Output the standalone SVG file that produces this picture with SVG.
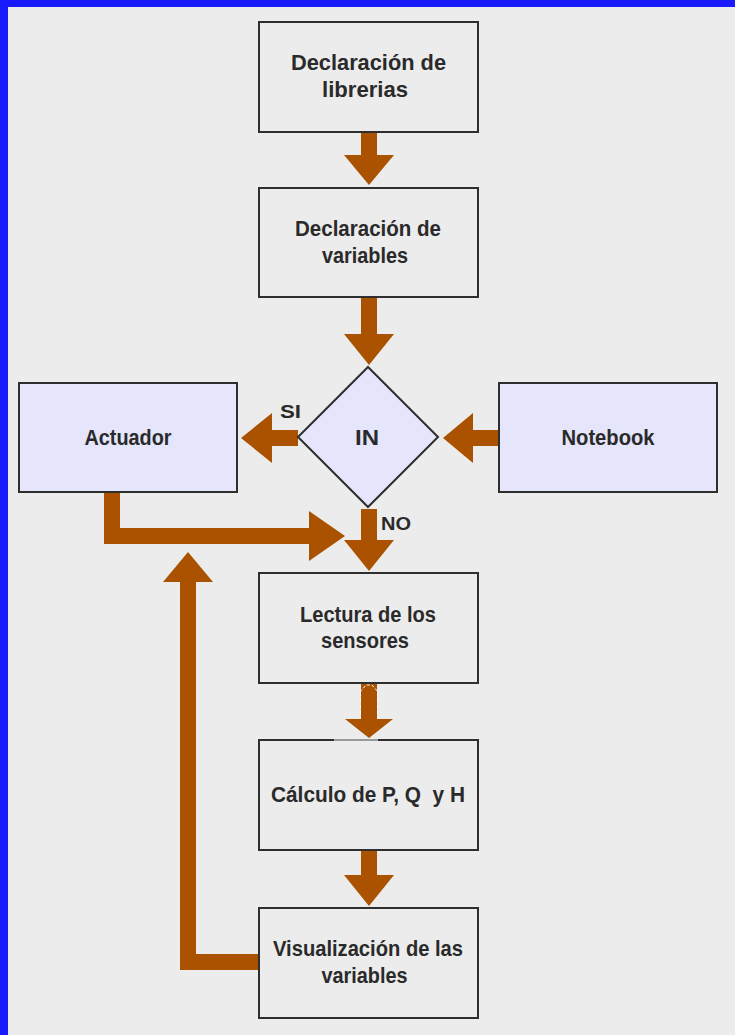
<svg xmlns="http://www.w3.org/2000/svg" width="735" height="1035" viewBox="0 0 735 1035">
<style>
.bg{fill:#ececec}
.box{fill:#ececec;stroke:#2e2e2e;stroke-width:2}
.lav{fill:#e5e5fc;stroke:#2e2e2e;stroke-width:2}
.arr{fill:#aa5200}
.t{font-family:"Liberation Sans",Arial,sans-serif;font-weight:bold;font-size:22px;fill:#2a2a2a;text-anchor:middle}
.lbl{font-family:"Liberation Sans",Arial,sans-serif;font-weight:bold;font-size:18px;fill:#2a2a2a}
</style>
<rect x="0" y="0" width="735" height="1035" fill="#1a1aff"/>
<rect class="bg" x="8" y="7" width="727" height="1028"/>

<g id="connectors">
  <polygon class="arr" points="361,132 377,132 377,155 394,155 369,185 344,155 361,155"/>
  <polygon class="arr" points="361,297 377,297 377,334 394,334 369,365 344,334 361,334"/>
  <polygon class="arr" points="298,430 272,430 272,413 241,438 272,463 272,446 298,446"/>
  <polygon class="arr" points="499,430 473,430 473,413 443,438 473,463 473,446 499,446"/>
  <polygon class="arr" points="361,509 377,509 377,540 394,540 369,571 344,540 361,540"/>
  <polygon class="arr" points="104,492 120,492 120,528 309,528 309,511 345,536 309,561 309,544 104,544"/>
  <polygon class="arr" points="361,683 377,683 377,719 393,719 369,738 345,719 361,719"/>
  <polyline points="360,692 366,685 372,685 378,692" fill="none" stroke="#ffffff" stroke-width="1" stroke-dasharray="3,2"/>
  <line x1="360.5" y1="693" x2="360.5" y2="718" stroke="#ffffff" stroke-width="1" stroke-dasharray="3,3"/>
  <line x1="377.5" y1="693" x2="377.5" y2="718" stroke="#ffffff" stroke-width="1" stroke-dasharray="3,3"/>
  <polygon class="arr" points="361,850 377,850 377,875 394,875 369,906 344,875 361,875"/>
  <polygon class="arr" points="259,954 196,954 196,582 213,582 188,552 163,582 180,582 180,970 259,970"/>
  <text class="lbl" x="280" y="418" textLength="21" lengthAdjust="spacingAndGlyphs">SI</text>
  <text class="lbl" x="381" y="530" textLength="30" lengthAdjust="spacingAndGlyphs">NO</text>
</g>

<g id="n-librerias">
  <rect class="box" x="259" y="22" width="219" height="110"/>
  <text class="t" x="368.5" y="70" textLength="155" lengthAdjust="spacingAndGlyphs">Declaración de</text>
  <text class="t" x="365" y="97" textLength="86" lengthAdjust="spacingAndGlyphs">librerias</text>
</g>

<g id="n-variables">
  <rect class="box" x="259" y="188" width="219" height="109"/>
  <text class="t" x="368" y="236" textLength="146" lengthAdjust="spacingAndGlyphs">Declaración de</text>
  <text class="t" x="365" y="263" textLength="86" lengthAdjust="spacingAndGlyphs">variables</text>
</g>

<g id="n-actuador">
  <rect class="lav" x="19" y="383" width="218" height="109"/>
  <text class="t" x="128" y="445" textLength="87" lengthAdjust="spacingAndGlyphs">Actuador</text>
</g>

<g id="n-in">
  <polygon class="lav" points="368,367 438,437 368,507 298,437"/>
  <text class="t" x="367" y="445" textLength="24" lengthAdjust="spacingAndGlyphs">IN</text>
</g>

<g id="n-notebook">
  <rect class="lav" x="499" y="383" width="218" height="109"/>
  <text class="t" x="608" y="445" textLength="93" lengthAdjust="spacingAndGlyphs">Notebook</text>
</g>

<g id="n-lectura">
  <rect class="box" x="259" y="573" width="219" height="110"/>
  <text class="t" x="368" y="622" textLength="136" lengthAdjust="spacingAndGlyphs">Lectura de los</text>
  <text class="t" x="365" y="648" textLength="88" lengthAdjust="spacingAndGlyphs">sensores</text>
</g>

<g id="n-calculo">
  <rect class="box" x="259" y="740" width="219" height="110"/>
  <line x1="334" y1="740" x2="378" y2="740" stroke="#9a9a9a" stroke-width="2"/>
  <text class="t" x="368" y="802" textLength="194" lengthAdjust="spacingAndGlyphs">Cálculo de P, Q&#160; y H</text>
</g>

<g id="n-visualizacion">
  <rect class="box" x="259" y="908" width="219" height="110"/>
  <text class="t" x="368" y="956" textLength="190" lengthAdjust="spacingAndGlyphs">Visualización de las</text>
  <text class="t" x="364.5" y="983" textLength="86" lengthAdjust="spacingAndGlyphs">variables</text>
</g>
</svg>
